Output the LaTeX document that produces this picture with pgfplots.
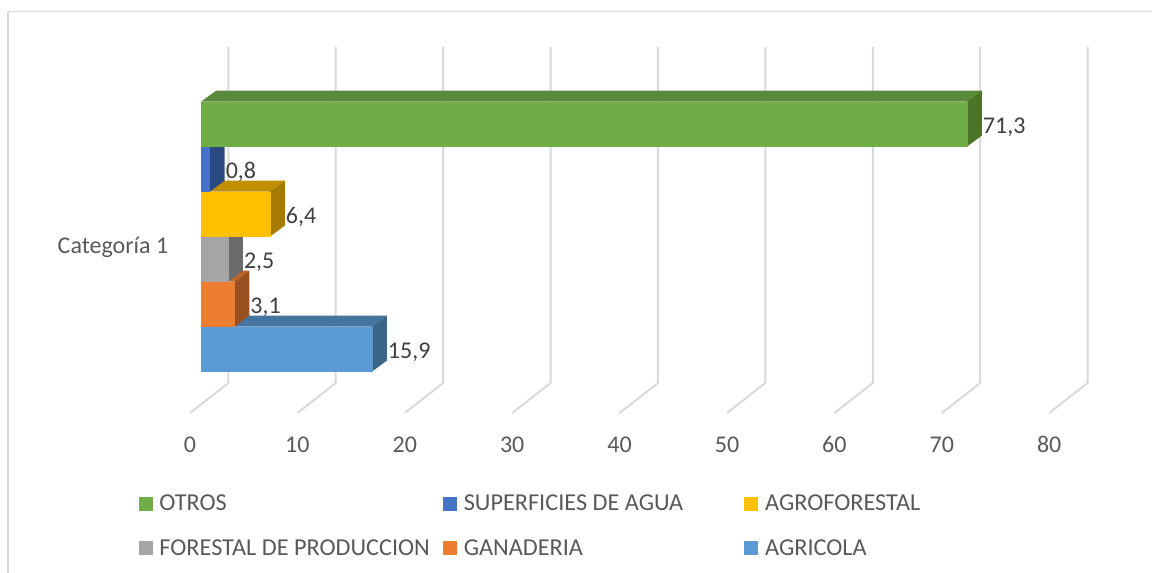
\documentclass[border=0pt]{standalone}
\usepackage{fontspec}
\setmainfont{Carlito}
\usepackage{pgfplots}
\pgfplotsset{compat=1.18}
\definecolor{gridc}{HTML}{D9D9D9}
\definecolor{txt}{HTML}{595959}
\definecolor{lab}{HTML}{404040}
\definecolor{gF}{HTML}{70AD47}\definecolor{gT}{HTML}{5A8A39}\definecolor{gS}{HTML}{4B7429}
\definecolor{bF}{HTML}{4472C4}\definecolor{bT}{HTML}{365B9C}\definecolor{bS}{HTML}{2A4980}
\definecolor{yF}{HTML}{FFC000}\definecolor{yT}{HTML}{C09000}\definecolor{yS}{HTML}{A67C00}
\definecolor{aF}{HTML}{A5A5A5}\definecolor{aT}{HTML}{848484}\definecolor{aS}{HTML}{6B6B6B}
\definecolor{oF}{HTML}{ED7D31}\definecolor{oT}{HTML}{BE6427}\definecolor{oS}{HTML}{9A5120}
\definecolor{cF}{HTML}{5B9BD5}\definecolor{cT}{HTML}{44749F}\definecolor{cS}{HTML}{3B6589}
\pgfplotsset{
  base/.style={
    scale only axis, width=864pt, height=429.75pt, ymin=0, ymax=573, y dir=reverse,
    clip=false, axis line style={draw=none}, major tick length=0pt,
    tick style={draw=none},
  },
  face/.style={fill=#1, draw=none, mark=none, forget plot},
  front/.style={xbar, bar width=44.6, bar shift=0pt, fill=#1, draw=#1, line width=0.3pt, forget plot},
}
\begin{document}
\begin{tikzpicture}
\useasboundingbox (0,0) rectangle (864pt,429.75pt);
% background: walls, floor, frame, scale
\begin{axis}[base,
  xmin=-17.691, xmax=89.572,
  xtick={0,10,20,30,40,50,60,70,80},
  ytick={247}, yticklabels={Categoría 1},
  /pgf/number format/assume math mode=true,
  tick label style={font=\fontsize{18}{21}\selectfont, text=txt},
  xticklabel style={anchor=center, text height=12pt, text depth=0pt, yshift=96.5pt},
  yticklabel style={anchor=east, xshift=129.75pt},
]
\addplot[gridc, line width=1.1pt, mark=none] coordinates {(-16.95,573) (-16.95,11.5) (89.57,11.5)};
\addplot[gridc, line width=1.5pt, mark=none] coordinates {(0,413) (3.57,383) (3.57,47)};
\addplot[gridc, line width=1.5pt, mark=none] coordinates {(10,413) (13.57,383) (13.57,47)};
\addplot[gridc, line width=1.5pt, mark=none] coordinates {(20,413) (23.57,383) (23.57,47)};
\addplot[gridc, line width=1.5pt, mark=none] coordinates {(30,413) (33.57,383) (33.57,47)};
\addplot[gridc, line width=1.5pt, mark=none] coordinates {(40,413) (43.57,383) (43.57,47)};
\addplot[gridc, line width=1.5pt, mark=none] coordinates {(50,413) (53.57,383) (53.57,47)};
\addplot[gridc, line width=1.5pt, mark=none] coordinates {(60,413) (63.57,383) (63.57,47)};
\addplot[gridc, line width=1.5pt, mark=none] coordinates {(70,413) (73.57,383) (73.57,47)};
\addplot[gridc, line width=1.5pt, mark=none] coordinates {(80,413) (83.57,383) (83.57,47)};
\end{axis}
% bars, painted from the lowest to the highest
\begin{axis}[base,
  xmin=-18.715, xmax=88.55,
  xtick=\empty, ytick=\empty,
  nodes near coords,
  point meta=x,
  nodes near coords style={anchor=west, inner sep=0pt, xshift=12pt, yshift=-2pt,
     font=\fontsize{18}{21}\selectfont, text=lab,
     /pgf/number format/fixed, /pgf/number format/precision=1,
     /pgf/number format/fixed zerofill, /pgf/number format/use comma,
     /pgf/number format/assume math mode=true},
  legend columns=3,
  legend style={at={(axis cs:-5.79,492)}, anchor=north west, draw=none, fill=none,
     inner sep=0pt, outer sep=0pt, row sep=16.25pt, font=\fontsize{18.2}{21}\selectfont, text=txt,
     /tikz/every odd column/.style={column sep=3pt},
     /tikz/every even column/.style={column sep=4.5pt}},
  legend cell align=left,
  legend image code/.code={\fill[#1] (0pt,-5.25pt) rectangle (10.5pt,5.25pt);},
]
\addlegendimage{fill=gF,draw=none}\addlegendentry{\makebox[206.25pt][l]{OTROS}}
\addlegendimage{fill=bF,draw=none}\addlegendentry{\makebox[204pt][l]{SUPERFICIES DE AGUA}}
\addlegendimage{fill=yF,draw=none}\addlegendentry{AGROFORESTAL}
\addlegendimage{fill=aF,draw=none}\addlegendentry{\makebox[206.25pt][l]{FORESTAL DE PRODUCCION}}
\addlegendimage{fill=oF,draw=none}\addlegendentry{\makebox[204pt][l]{GANADERIA}}
\addlegendimage{fill=cF,draw=none}\addlegendentry{AGRICOLA}
% AGRICOLA 15,9
\addplot[face=cT, nodes near coords={}] coordinates {(0,326.7) (1.4,315.7) (17.3,315.7) (15.9,326.7)};
\addplot[face=cS, nodes near coords={}] coordinates {(15.9,326.7) (17.3,315.7) (17.3,360.7) (15.9,371.7)};
\addplot[front=cF] coordinates {(15.9,349.2)};
% GANADERIA 3,1
\addplot[face=oT, nodes near coords={}] coordinates {(0,281.7) (1.4,270.7) (4.5,270.7) (3.1,281.7)};
\addplot[face=oS, nodes near coords={}] coordinates {(3.1,281.7) (4.5,270.7) (4.5,315.7) (3.1,326.7)};
\addplot[front=oF] coordinates {(3.1,304.2)};
% FORESTAL DE PRODUCCION 2,5
\addplot[face=aT, nodes near coords={}] coordinates {(0,236.7) (1.4,225.7) (3.9,225.7) (2.5,236.7)};
\addplot[face=aS, nodes near coords={}] coordinates {(2.5,236.7) (3.9,225.7) (3.9,270.7) (2.5,281.7)};
\addplot[front=aF] coordinates {(2.5,259.2)};
% AGROFORESTAL 6,4
\addplot[face=yT, nodes near coords={}] coordinates {(0,191.7) (1.4,180.7) (7.8,180.7) (6.4,191.7)};
\addplot[face=yS, nodes near coords={}] coordinates {(6.4,191.7) (7.8,180.7) (7.8,225.7) (6.4,236.7)};
\addplot[front=yF] coordinates {(6.4,214.2)};
% SUPERFICIES DE AGUA 0,8
\addplot[face=bT, nodes near coords={}] coordinates {(0,146.7) (1.4,135.7) (2.2,135.7) (0.8,146.7)};
\addplot[face=bS, nodes near coords={}] coordinates {(0.8,146.7) (2.2,135.7) (2.2,180.7) (0.8,191.7)};
\addplot[front=bF] coordinates {(0.8,169.2)};
% OTROS 71,3
\addplot[face=gT, nodes near coords={}] coordinates {(0,101.7) (1.4,90.7) (72.7,90.7) (71.3,101.7)};
\addplot[face=gS, nodes near coords={}] coordinates {(71.3,101.7) (72.7,90.7) (72.7,135.7) (71.3,146.7)};
\addplot[front=gF] coordinates {(71.3,124.2)};
\end{axis}
\end{tikzpicture}
\end{document}
